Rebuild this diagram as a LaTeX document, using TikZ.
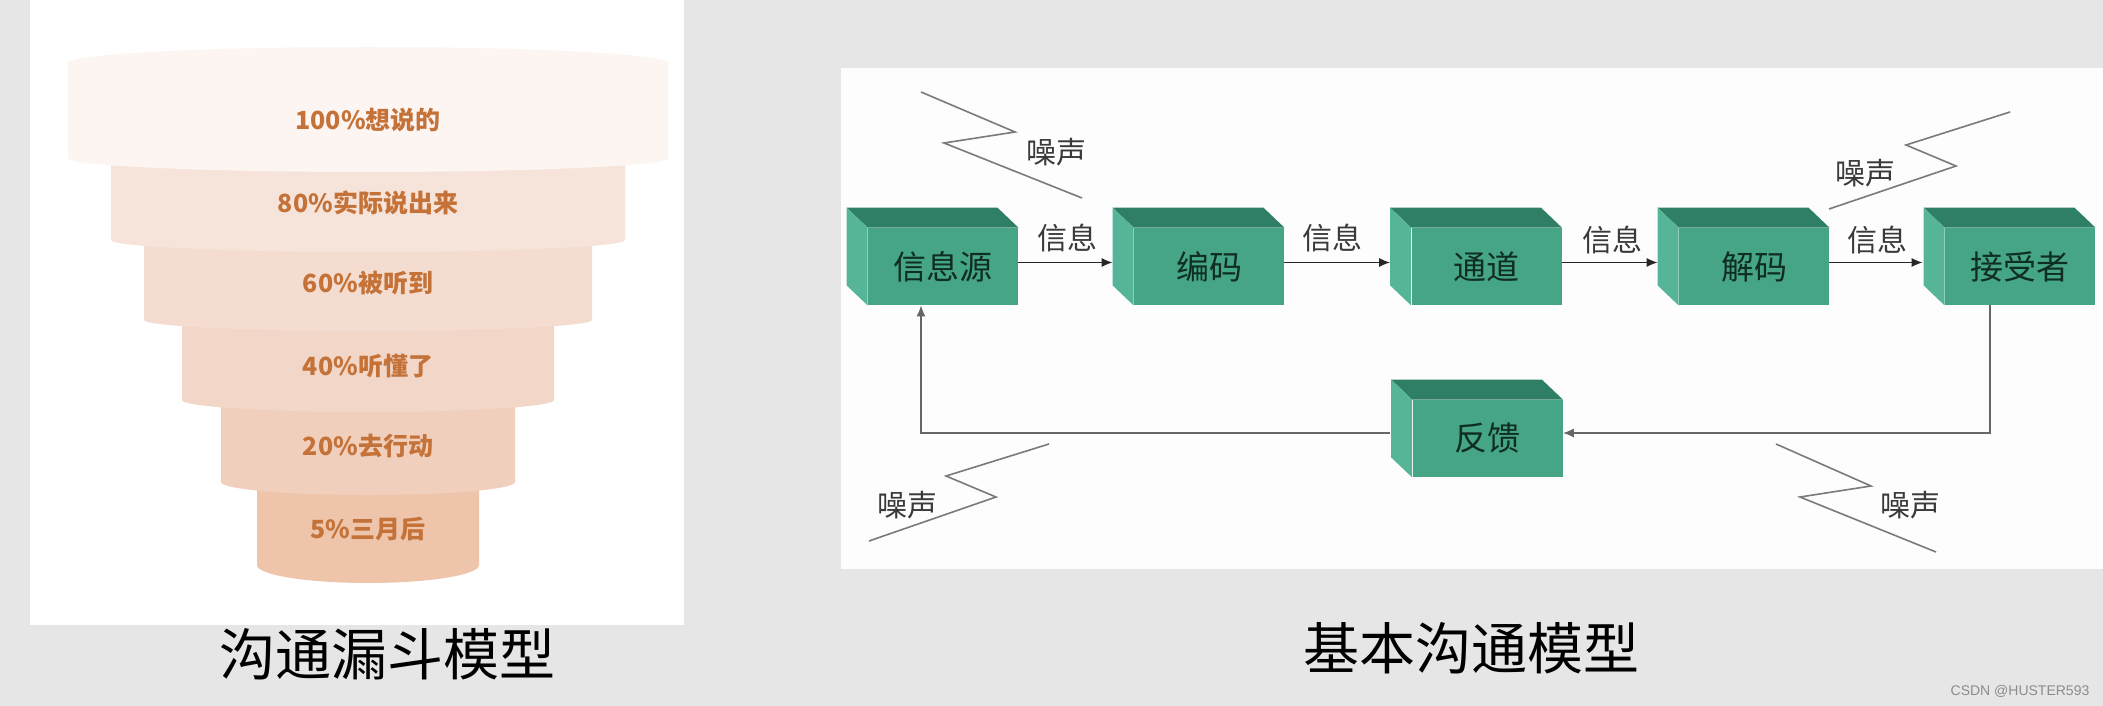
\documentclass[tikz,border=0pt]{standalone}
\usepackage{fontspec}
\setmainfont{Liberation Sans}
\newfontfamily\cjk{Noto Sans CJK SC}
\usetikzlibrary{arrows.meta}
\definecolor{bgc}{HTML}{E6E6E6}
\definecolor{panel}{HTML}{FDFDFD}
\definecolor{frontc}{HTML}{46A487}
\definecolor{topc}{HTML}{2F7E66}
\definecolor{sidec}{HTML}{56B598}
\definecolor{boxtext}{HTML}{0F2E22}
\definecolor{funtext}{HTML}{C47238}
\definecolor{tA}{HTML}{FDF5F2}
\definecolor{tB}{HTML}{F6E3DA}
\definecolor{tC}{HTML}{F4DDD0}
\definecolor{tD}{HTML}{F2D7C8}
\definecolor{tE}{HTML}{F0CFBC}
\definecolor{tF}{HTML}{EEC5AB}
\definecolor{noisec}{HTML}{7A7A7A}
\definecolor{loopc}{HTML}{666666}
\definecolor{lblc}{HTML}{3A3A3A}
\tikzset{
  stepbox/.style={fill=frontc, minimum width=75pt, minimum height=38.5pt, inner sep=0pt,
    text=boxtext, font=\cjk\fontsize{16.5}{18}\selectfont},
  lbl/.style={text=lblc, inner sep=0pt, font=\cjk\fontsize{15}{17}\selectfont},
  funlbl/.style={text=funtext, inner sep=0pt, font=\cjk\bfseries\fontsize{12.5}{14}\selectfont},
  ttl/.style={text=black, inner sep=0pt, font=\cjk\fontsize{28}{32}\selectfont},
  flow/.style={draw=black!85, line width=0.7pt, -{Latex[length=5.5pt,width=4.5pt]}},
  backarr/.style={draw=loopc, line width=0.7pt, -{Latex[length=5.5pt,width=4.5pt]}},
  noise/.style={draw=noisec, line width=0.8pt}
}
\newcommand{\boxsides}[1]{%
  \fill[topc] (#1.north west) -- ([shift={(-21,-20)}]#1.north west) -- ([shift={(-21,-20)}]#1.north east) -- (#1.north east) -- cycle;
  \fill[sidec] (#1.north west) -- ([shift={(-21,-20)}]#1.north west) -- ([shift={(-21,-20)}]#1.south west) -- (#1.south west) -- cycle;
}
\begin{document}
\begin{tikzpicture}[x=0.5pt,y=-0.5pt]
% background and panels
\fill[bgc] (0,0) rectangle (2103,706);
\useasboundingbox (0,0) rectangle (2103,706);
\fill[white] (30,0) rectangle (684,625);
\fill[panel] (841,68) rectangle (2103,569);

% ---------- funnel ----------
\fill[tF] (257,470) -- (257,565) arc[start angle=180,end angle=0,x radius=111,y radius=18] -- (479,470) -- cycle;
\fill[tE] (221,395) -- (221,482) arc[start angle=180,end angle=0,x radius=147,y radius=13] -- (515,395) -- cycle;
\fill[tD] (182,315) -- (182,400) arc[start angle=180,end angle=0,x radius=186,y radius=12] -- (554,315) -- cycle;
\fill[tC] (144,235) -- (144,320) arc[start angle=180,end angle=0,x radius=224,y radius=11] -- (592,235) -- cycle;
\fill[tB] (111,150) -- (111,240) arc[start angle=180,end angle=0,x radius=257,y radius=12] -- (625,150) -- cycle;
\fill[tA] (68,63) -- (68,158) arc[start angle=180,end angle=0,x radius=300,y radius=14] -- (668,63) arc[start angle=0,end angle=-180,x radius=300,y radius=16] -- cycle;

\node[funlbl] (f1) at (368,120) {100\%想说的};
\node[funlbl] (f2) at (368,203) {80\%实际说出来};
\node[funlbl] (f3) at (368,283) {60\%被听到};
\node[funlbl] (f4) at (368,366) {40\%听懂了};
\node[funlbl] (f5) at (368,446) {20\%去行动};
\node[funlbl] (f6) at (368,529) {5\%三月后};

\node[ttl] (t1) at (387,654) {沟通漏斗模型};

% ---------- communication model ----------
\node[stepbox] (src)  at (943,266.5)  {信息源};
\node[stepbox] (enc)  at (1209,266.5) {编码};
\node[stepbox] (chan) at (1486.5,266.5) {通道};
\node[stepbox] (dec)  at (1754,266.5) {解码};
\node[stepbox] (recv) at (2020,266.5) {接受者};
\node[stepbox] (fb)   at (1487.5,438.5) {反馈};
\boxsides{src}
\boxsides{enc}
\boxsides{chan}
\boxsides{dec}
\boxsides{recv}
\boxsides{fb}

\draw[flow] ([yshift=2pt]src.east) -- ([shift={(-21,-4)}]enc.west);
\draw[flow] ([yshift=2pt]enc.east) -- ([shift={(-21,-4)}]chan.west);
\draw[flow] ([yshift=2pt]chan.east) -- ([shift={(-21,-4)}]dec.west);
\draw[flow] ([yshift=2pt]dec.east) -- ([shift={(-22,-4)}]recv.west);

\node[lbl] (l1) at (1067,238) {信息};
\node[lbl] (l2) at (1332,238) {信息};
\node[lbl] (l3) at (1612,240) {信息};
\node[lbl] (l4) at (1877,240) {信息};

% feedback loop
\draw[backarr] ([xshift=-15pt]recv.south) |- ([yshift=2.75pt]fb.east);
\draw[backarr] ([shift={(-22,-5.5)}]fb.west) -| ([xshift=-11pt]src.south);

% noise zigzags
\draw[noise] (921,92) -- (1015,132) -- (944,143) -- (1082,198);
\node[lbl] (n1) at (1056,152) {噪声};
\draw[noise] (2010,112) -- (1906,145) -- (1956,166) -- (1829,209);
\node[lbl] (n2) at (1865,173) {噪声};
\draw[noise] (1049,444) -- (946,476) -- (996,497) -- (869,541);
\node[lbl] (n3) at (907,505) {噪声};
\draw[noise] (1776,444) -- (1871,486) -- (1800,497) -- (1936,552);
\node[lbl] (n4) at (1910,505) {噪声};

\node[ttl] (t2) at (1471,648) {基本沟通模型};

\node[text=black!45, inner sep=0pt, font=\fontsize{7}{8}\selectfont] (wm) at (2020,691) {CSDN @HUSTER593};
\end{tikzpicture}
\end{document}
